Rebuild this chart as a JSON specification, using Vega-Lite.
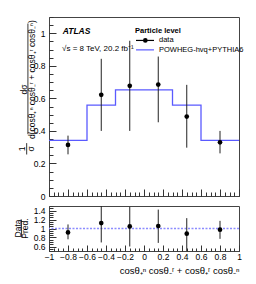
{
  "$schema": "https://vega.github.io/schema/vega-lite/v6.json",
  "padding": {"left": 13, "top": 16, "right": 5, "bottom": 2},
  "spacing": 4,
  "config": {
    "font": "Liberation Sans",
    "view": {"stroke": "#444", "strokeWidth": 1},
    "axis": {
      "grid": false, "domain": false, "tickColor": "#333", "tickWidth": 1, "labelOverlap": false,
      "labelFont": "Liberation Sans", "labelFontSize": 8.5, "labelColor": "#000",
      "titleFont": "Liberation Sans", "titleFontWeight": "normal", "titleColor": "#000"
    }
  },
  "datasets": {
    "hist": [
      {"x": -1, "pred": 0.342}, {"x": -0.6, "pred": 0.558}, {"x": -0.3, "pred": 0.652},
      {"x": 0, "pred": 0.652}, {"x": 0.3, "pred": 0.558}, {"x": 0.6, "pred": 0.342}, {"x": 1, "pred": 0.342}
    ],
    "pts": [
      {"x": -0.8, "y": 0.314, "lo": 0.256, "hi": 0.371},
      {"x": -0.45, "y": 0.622, "lo": 0.4, "hi": 0.843},
      {"x": -0.15, "y": 0.677, "lo": 0.4, "hi": 0.954},
      {"x": 0.15, "y": 0.685, "lo": 0.453, "hi": 0.857},
      {"x": 0.45, "y": 0.488, "lo": 0.297, "hi": 0.683},
      {"x": 0.8, "y": 0.33, "lo": 0.262, "hi": 0.4}
    ],
    "ratio": [
      {"x": -0.8, "r": 0.913, "lo": 0.76, "hi": 1.09},
      {"x": -0.45, "r": 1.12, "lo": 0.69, "hi": 1.55},
      {"x": -0.15, "r": 1.047, "lo": 0.6, "hi": 1.48},
      {"x": 0.15, "r": 1.055, "lo": 0.68, "hi": 1.42},
      {"x": 0.45, "r": 0.885, "lo": 0.45, "hi": 1.23},
      {"x": 0.8, "r": 0.973, "lo": 0.77, "hi": 1.17}
    ]
  },
  "vconcat": [
    {
      "width": 190, "height": 179,
      "resolve": {"axis": {"x": "independent", "y": "independent"}},
      "layer": [
        {
          "data": {"name": "hist"},
          "mark": {"type": "line", "interpolate": "step-after", "color": "#5a5aff", "strokeWidth": 1.3},
          "encoding": {
            "x": {"field": "x", "type": "quantitative", "scale": {"domain": [-1, 1], "nice": false, "zero": false},
              "axis": {"title": null, "orient": "bottom", "values": [-1,-0.8,-0.6,-0.4,-0.2,0,0.2,0.4,0.6,0.8,1],
                "labels": false, "labelPadding": 0, "tickSize": -7}},
            "y": {"field": "pred", "type": "quantitative", "scale": {"domain": [0, 1.1], "nice": false},
              "axis": {"title": null, "orient": "left", "values": [0,0.2,0.4,0.6,0.8,1],
                "labelExpr": "format(datum.value, '~g')", "labelOverlap": false,
                "labelPadding": 11, "tickSize": -7}}
          }
        },
        {
          "data": {"name": "pts"},
          "mark": {"type": "rule", "color": "#222", "strokeWidth": 1},
          "encoding": {
            "x": {"field": "x", "type": "quantitative",
              "axis": {"title": null, "orient": "bottom", "values": [-1,-0.95,-0.9,-0.85,-0.8,-0.75,-0.7,-0.65,-0.6,-0.55,-0.5,-0.45,-0.4,-0.35,-0.3,-0.25,-0.2,-0.15,-0.1,-0.05,0,0.05,0.1,0.15,0.2,0.25,0.3,0.35,0.4,0.45,0.5,0.55,0.6,0.65,0.7,0.75,0.8,0.85,0.9,0.95,1],
                "labels": false, "labelPadding": 0, "tickSize": -4}},
            "y": {"field": "lo", "type": "quantitative",
              "axis": {"title": null, "orient": "left", "values": [0,0.05,0.1,0.15,0.2,0.25,0.3,0.35,0.4,0.45,0.5,0.55,0.6,0.65,0.7,0.75,0.8,0.85,0.9,0.95,1,1.05,1.1],
                "labels": false, "labelPadding": 0, "tickSize": -4}},
            "y2": {"field": "hi"}
          }
        },
        {
          "data": {"name": "pts"},
          "mark": {"type": "point", "filled": true, "shape": "circle", "size": 22, "color": "#000", "opacity": 1},
          "encoding": {"x": {"field": "x", "type": "quantitative", "axis": null}, "y": {"field": "y", "type": "quantitative", "axis": null}}
        },
        {
          "data": {"values": [{"x": -0.856, "y": 1.011, "t": "ATLAS"}]},
          "mark": {"type": "text", "align": "left", "baseline": "middle", "color": "#000", "fontWeight": "bold", "fontStyle": "italic", "fontSize": 8.5},
          "encoding": {"x": {"field": "x", "type": "quantitative", "axis": null}, "y": {"field": "y", "type": "quantitative", "axis": null}, "text": {"field": "t"}}
        },
        {
          "data": {"values": [{"x": -0.863, "y": 0.902, "t": "√s = 8 TeV, 20.2 fb⁻¹"}]},
          "mark": {"type": "text", "align": "left", "baseline": "middle", "color": "#000", "fontSize": 8},
          "encoding": {"x": {"field": "x", "type": "quantitative", "axis": null}, "y": {"field": "y", "type": "quantitative", "axis": null}, "text": {"field": "t"}}
        },
        {
          "data": {"values": [{"x": -0.095, "y": 1.017, "t": "Particle level"}]},
          "mark": {"type": "text", "align": "left", "baseline": "middle", "color": "#000", "fontWeight": "bold", "fontSize": 7.5},
          "encoding": {"x": {"field": "x", "type": "quantitative", "axis": null}, "y": {"field": "y", "type": "quantitative", "axis": null}, "text": {"field": "t"}}
        },
        {
          "data": {"values": [
            {"x": 0.158, "y": 0.956, "t": "data"},
            {"x": 0.158, "y": 0.898, "t": "POWHEG-hvq+PYTHIA6"}
          ]},
          "mark": {"type": "text", "align": "left", "baseline": "middle", "color": "#000", "fontSize": 7.5},
          "encoding": {"x": {"field": "x", "type": "quantitative", "axis": null}, "y": {"field": "y", "type": "quantitative", "axis": null}, "text": {"field": "t"}}
        },
        {
          "data": {"values": [
            {"x": -0.084, "x2": 0.105, "y": 0.956, "c": "#000"},
            {"x": -0.084, "x2": 0.105, "y": 0.898, "c": "#5a5aff"}
          ]},
          "mark": {"type": "rule", "strokeWidth": 1.2},
          "encoding": {"x": {"field": "x", "type": "quantitative", "axis": null}, "x2": {"field": "x2"}, "y": {"field": "y", "type": "quantitative", "axis": null}, "color": {"field": "c", "type": "nominal", "scale": null}}
        },
        {
          "data": {"values": [{"x": 0.014, "y": 0.956}]},
          "mark": {"type": "point", "filled": true, "shape": "circle", "size": 22, "color": "#000", "opacity": 1},
          "encoding": {"x": {"field": "x", "type": "quantitative", "axis": null}, "y": {"field": "y", "type": "quantitative", "axis": null}}
        },
        {
          "data": {"values": [
            {"x": -1.268, "y": 0.654, "t": "dσ"},
            {"x": -1.175, "y": 0.715, "t": "d(cosθ₊ⁿ cosθ₋ʳ + cosθ₊ʳ cosθ₋ⁿ)"},
            {"x": -1.285, "y": 0.29, "t": "1"},
            {"x": -1.185, "y": 0.29, "t": "σ"}
          ]},
          "mark": {"type": "text", "angle": 270, "align": "center", "baseline": "middle", "fontSize": 8.5, "color": "#000"},
          "encoding": {"x": {"field": "x", "type": "quantitative", "axis": null}, "y": {"field": "y", "type": "quantitative", "axis": null}, "text": {"field": "t"}}
        },
        {
          "data": {"values": [{"x": -1.222, "y": 0.38, "y2": 1.06}, {"x": -1.235, "y": 0.255, "y2": 0.325}]},
          "mark": {"type": "rule", "color": "#000", "strokeWidth": 0.8},
          "encoding": {"x": {"field": "x", "type": "quantitative", "axis": null}, "y": {"field": "y", "type": "quantitative", "axis": null}, "y2": {"field": "y2"}}
        }
      ]
    },
    {
      "width": 190, "height": 45,
      "resolve": {"axis": {"x": "independent", "y": "independent"}},
      "layer": [
        {
          "data": {"values": [{"v": 1}]},
          "mark": {"type": "rule", "color": "#8c8cff", "strokeWidth": 1.5, "strokeDash": [2, 1.5]},
          "encoding": {"y": {"field": "v", "type": "quantitative", "axis": null}}
        },
        {
          "data": {"name": "ratio"},
          "mark": {"type": "rule", "color": "#222", "strokeWidth": 1, "clip": true},
          "encoding": {
            "x": {"field": "x", "type": "quantitative", "scale": {"domain": [-1, 1], "nice": false, "zero": false},
              "axis": {"title": "cosθ₊ⁿ cosθ₋ʳ + cosθ₊ʳ cosθ₋ⁿ", "orient": "bottom", "titleAnchor": "end", "titleFontSize": 9.5, "titlePadding": 5,
                "values": [-1,-0.8,-0.6,-0.4,-0.2,0,0.2,0.4,0.6,0.8,1],
                "labelExpr": "format(datum.value, '~g')", "labelOverlap": false,
                "labelPadding": 7, "labelFlush": false, "tickSize": -6}},
            "y": {"field": "lo", "type": "quantitative", "scale": {"domain": [0.5, 1.5], "nice": false, "zero": false},
              "axis": {"title": null, "orient": "left", "values": [0.6,0.8,1,1.2,1.4],
                "labelExpr": "format(datum.value, '~g')", "labelOverlap": false,
                "labelPadding": 11, "tickSize": -7}},
            "y2": {"field": "hi"}
          }
        },
        {
          "data": {"name": "ratio"},
          "mark": {"type": "point", "filled": true, "shape": "circle", "size": 22, "color": "#000", "opacity": 1},
          "encoding": {
            "x": {"field": "x", "type": "quantitative",
              "axis": {"title": null, "orient": "bottom", "values": [-1,-0.95,-0.9,-0.85,-0.8,-0.75,-0.7,-0.65,-0.6,-0.55,-0.5,-0.45,-0.4,-0.35,-0.3,-0.25,-0.2,-0.15,-0.1,-0.05,0,0.05,0.1,0.15,0.2,0.25,0.3,0.35,0.4,0.45,0.5,0.55,0.6,0.65,0.7,0.75,0.8,0.85,0.9,0.95,1],
                "labels": false, "labelPadding": 0, "tickSize": -3}},
            "y": {"field": "r", "type": "quantitative",
              "axis": {"title": null, "orient": "left", "values": [0.5,0.55,0.6,0.65,0.7,0.75,0.8,0.85,0.9,0.95,1,1.05,1.1,1.15,1.2,1.25,1.3,1.35,1.4,1.45,1.5],
                "labels": false, "labelPadding": 0, "tickSize": -4}}
          }
        },
        {
          "data": {"values": [{"x": -1.33, "y": 1.0, "t": "Data"}, {"x": -1.25, "y": 1.0, "t": "Pred."}]},
          "mark": {"type": "text", "angle": 270, "align": "center", "baseline": "middle", "fontSize": 8.5, "color": "#000"},
          "encoding": {"x": {"field": "x", "type": "quantitative", "axis": null}, "y": {"field": "y", "type": "quantitative", "axis": null}, "text": {"field": "t"}}
        },
        {
          "data": {"values": [{"x": -1.29, "y": 0.8, "y2": 1.2}]},
          "mark": {"type": "rule", "color": "#000", "strokeWidth": 0.8},
          "encoding": {"x": {"field": "x", "type": "quantitative", "axis": null}, "y": {"field": "y", "type": "quantitative", "axis": null}, "y2": {"field": "y2"}}
        }
      ]
    }
  ]
}
